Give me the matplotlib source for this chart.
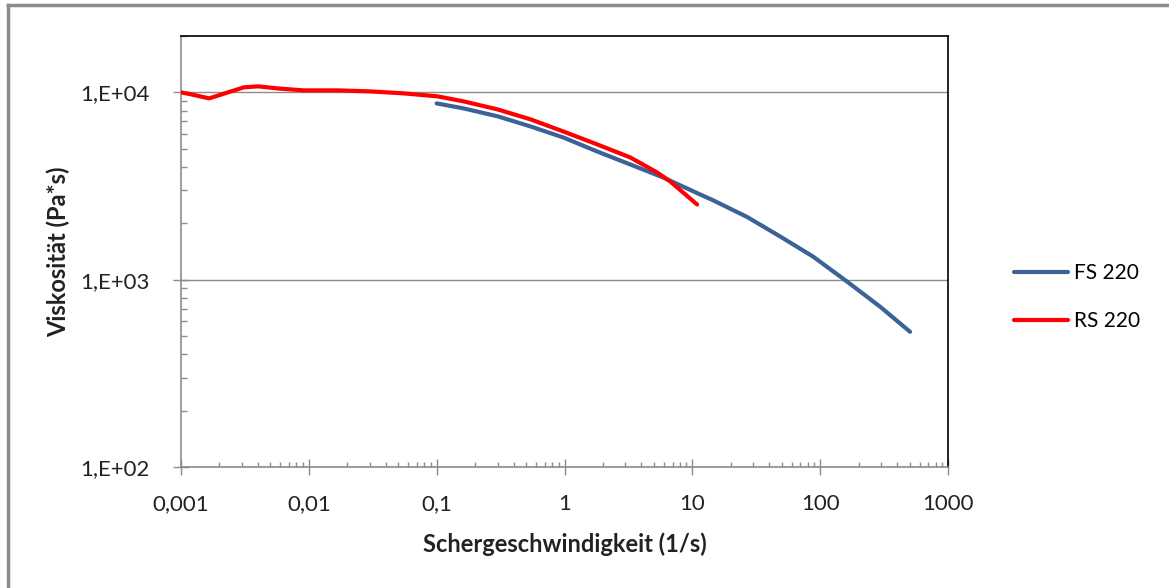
import matplotlib.pyplot as plt
from matplotlib.lines import Line2D
from matplotlib.ticker import FixedLocator, FixedFormatter, LogLocator, NullFormatter

plt.rcParams['font.family'] = ['Lato', 'DejaVu Sans']

# Schergeschwindigkeit (1/s) / Viskosität (Pa*s)
fs_rate = [0.1, 0.163, 0.30, 0.542, 0.982, 1.81, 3.28, 5.93, 8.05, 10.9, 14.6, 26.9, 48.7, 88.1, 163, 294, 505]
fs_visc = [8735, 8210, 7450, 6580, 5740, 4830, 4120, 3510, 3190, 2900, 2650, 2160, 1700, 1328, 975, 718, 527]

rs_rate = [0.001, 0.0012, 0.00166, 0.00233, 0.0031, 0.0040, 0.0057, 0.0091, 0.0169, 0.0305,
           0.0552, 0.102, 0.163, 0.30, 0.542, 0.982, 1.81, 3.28, 5.33, 6.73, 10.9]
rs_visc = [10000, 9760, 9290, 10000, 10640, 10770, 10500, 10250, 10250, 10120,
           9880, 9520, 8950, 8110, 7180, 6180, 5270, 4490, 3730, 3340, 2520]

x_ticks = [0.001, 0.01, 0.1, 1, 10, 100, 1000]
x_labels = ['0,001', '0,01', '0,1', '1', '10', '100', '1000']
y_ticks = [100, 1000, 10000]
y_labels = ['1,E+02', '1,E+03', '1,E+04']

blue = '#3B6398'
red = '#FF0000'
gray = '#8C8C8C'

fig = plt.figure(figsize=(11.69, 5.88), dpi=100)
ax = fig.add_axes([181 / 1169, 1 - 467 / 588, 767 / 1169, 431 / 588])

ax.plot(fs_rate, fs_visc, color=blue, lw=3, solid_capstyle='round', solid_joinstyle='round',
        label='FS 220', zorder=3)
ax.plot(rs_rate, rs_visc, color=red, lw=3, solid_capstyle='round', solid_joinstyle='round',
        label='RS 220', zorder=4)

ax.set_xscale('log')
ax.set_yscale('log')
ax.set_xlim(0.001, 1000)
ax.set_ylim(100, 20000)

ax.xaxis.set_major_locator(FixedLocator(x_ticks))
ax.xaxis.set_major_formatter(FixedFormatter(x_labels))
ax.yaxis.set_major_locator(FixedLocator(y_ticks))
ax.yaxis.set_major_formatter(FixedFormatter(y_labels))
ax.xaxis.set_minor_locator(LogLocator(base=10, subs=range(2, 10), numticks=20))
ax.yaxis.set_minor_locator(LogLocator(base=10, subs=range(2, 10), numticks=20))
ax.xaxis.set_minor_formatter(NullFormatter())
ax.yaxis.set_minor_formatter(NullFormatter())

ax.tick_params(axis='both', which='major', direction='inout', length=11, width=1,
               color=gray, labelsize=16, labelcolor='#222222')
ax.tick_params(axis='x', which='major', pad=14)
ax.tick_params(axis='y', which='major', pad=17)
ax.tick_params(axis='x', which='minor', direction='in', length=3.5, width=1, color=gray)
ax.tick_params(axis='y', which='minor', direction='in', length=4.5, width=1, color=gray)

ax.grid(True, which='major', axis='y', color=gray, lw=1)
ax.set_axisbelow(True)

ax.spines['left'].set_color(gray)
ax.spines['bottom'].set_color(gray)
ax.spines['top'].set_color('black')
ax.spines['right'].set_color('black')
for s in ax.spines.values():
    s.set_linewidth(1.2)

ax.set_xlabel('Schergeschwindigkeit (1/s)', fontsize=17, fontweight='bold', color='#222222')
ax.set_ylabel('Viskosität (Pa*s)', fontsize=17, fontweight='bold', color='#222222')
ax.xaxis.set_label_coords(0.5, (467 - 544) / 431)
ax.xaxis.label.set_va('center')
ax.yaxis.set_label_coords((58 - 181) / 767, 0.5)
ax.yaxis.label.set_va('center')

handles = [Line2D([], [], color=blue, lw=3, solid_capstyle='round'),
           Line2D([], [], color=red, lw=3, solid_capstyle='round')]
fig.legend(handles, ['FS 220', 'RS 220'], loc='center left',
           bbox_to_anchor=(1014 / 1169, 1 - 297 / 588), frameon=False,
           fontsize=15, handlelength=2.6, handletextpad=0.3,
           labelspacing=1.35, borderpad=0, borderaxespad=0)

# Rahmen um das Diagramm
fig.add_artist(Line2D([8 / 1169, 8 / 1169], [0, 1 - 5 / 588], color=gray, lw=2.5))
fig.add_artist(Line2D([8 / 1169, 1], [1 - 5 / 588, 1 - 5 / 588], color=gray, lw=2.5))

fig.savefig('out.png', dpi=100)
